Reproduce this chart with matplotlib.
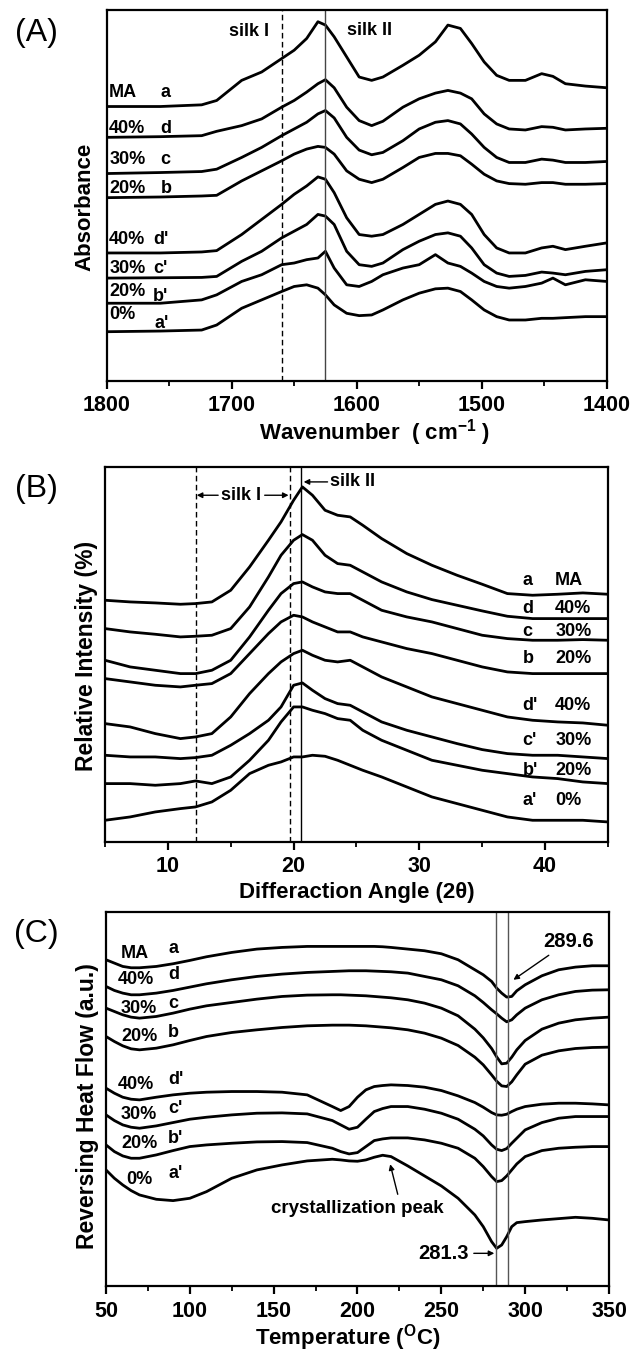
import matplotlib.pyplot as plt
from matplotlib.ticker import MultipleLocator

plt.rcParams['font.family'] = ['Liberation Sans', 'DejaVu Sans']
plt.rcParams['font.weight'] = 'bold'
plt.rcParams['axes.labelweight'] = 'bold'
plt.rcParams['mathtext.fontset'] = 'custom'
plt.rcParams['mathtext.rm'] = 'Liberation Sans:bold'
plt.rcParams['mathtext.bf'] = 'Liberation Sans:bold'

# ---- (A) FTIR ----
ftir_wn = [1800, 1757, 1724, 1712, 1692, 1676, 1660, 1650, 1640, 1631, 1625, 1618, 1608,
           1598, 1588, 1579, 1563, 1550, 1537, 1527, 1517, 1508, 1498, 1488, 1478, 1465,
           1452, 1443, 1433, 1417, 1400]
ftir_a = [81.9, 81.9, 82.4, 83.7, 89.7, 92.2, 96.2, 98.7, 102.2, 107.2, 106.2, 102.7, 96.7,
          90.7, 89.7, 90.7, 94.2, 97.2, 101.2, 106.2, 105.2, 100.7, 95.2, 91.2, 89.7, 89.7,
          91.7, 90.9, 88.7, 88.0, 87.5]
ftir_d = [72.7, 72.9, 73.2, 74.5, 76.2, 78.2, 81.7, 83.7, 86.2, 88.7, 89.9, 87.5, 81.7,
          77.7, 76.2, 77.5, 81.7, 84.2, 85.9, 86.7, 85.9, 84.2, 79.7, 76.7, 75.2, 74.9,
          75.9, 75.7, 74.9, 75.2, 75.4]
ftir_c = [61.9, 62.2, 62.5, 63.2, 66.7, 69.7, 73.2, 75.2, 77.2, 79.7, 80.7, 78.5, 72.7,
          68.9, 67.5, 68.2, 71.7, 75.2, 77.2, 77.7, 76.7, 73.7, 69.7, 66.7, 65.2, 65.2,
          66.2, 65.9, 65.2, 65.2, 65.5]
ftir_b = [54.7, 54.9, 55.2, 55.4, 59.7, 62.7, 65.7, 67.7, 69.2, 70.0, 69.7, 67.7, 62.7,
          60.2, 59.2, 60.2, 63.7, 66.7, 67.9, 67.9, 67.2, 64.7, 61.7, 59.7, 58.9, 58.7,
          59.2, 59.2, 58.7, 58.7, 58.9]
ftir_d2 = [38.2, 38.2, 38.5, 38.9, 43.7, 48.2, 52.7, 55.7, 58.2, 60.9, 60.2, 56.2, 48.7,
           43.7, 43.2, 43.7, 46.7, 49.7, 52.7, 53.7, 52.7, 49.7, 43.7, 39.7, 38.2, 38.2,
           39.7, 40.2, 39.2, 40.2, 41.2]
ftir_c2 = [30.7, 30.8, 30.9, 31.2, 35.7, 38.7, 42.7, 44.7, 46.7, 49.7, 49.2, 46.7, 38.7,
           34.7, 34.2, 35.2, 39.2, 41.7, 43.7, 44.2, 43.2, 39.7, 34.7, 32.2, 31.2, 31.5,
           32.5, 32.2, 31.7, 32.7, 33.2]
ftir_b2 = [23.2, 23.2, 24.2, 25.7, 29.7, 31.7, 34.7, 35.2, 36.2, 36.7, 38.7, 33.7, 28.7,
           28.2, 29.7, 31.7, 33.7, 34.7, 37.7, 35.2, 34.2, 32.2, 29.7, 28.2, 27.7, 28.2,
           29.2, 30.7, 28.7, 30.2, 29.7]
ftir_a2 = [14.7, 14.9, 15.2, 16.7, 21.7, 24.2, 26.7, 28.2, 28.7, 27.7, 25.7, 22.7, 20.2,
           19.5, 19.7, 21.2, 24.2, 26.2, 27.5, 27.7, 26.7, 24.2, 21.2, 19.2, 18.2, 18.2,
           18.7, 18.7, 18.9, 19.2, 19.2]
ftir_pct = ['MA', '40%', '30%', '20%', '40%', '30%', '20%', '0%']
ftir_let = ['a', 'd', 'c', 'b', "d'", "c'", "b'", "a'"]
ftir_pct_y = [86.2, 75.2, 66.2, 57.5, 42.2, 33.7, 26.7, 19.7]
ftir_let_y = [86.2, 75.2, 66.2, 57.5, 42.2, 33.7, 25.2, 17.2]
ftir_let_x = [1757, 1757, 1757, 1757, 1763, 1763, 1763, 1762]

# ---- (B) XRD ----
xrd_x = [5, 7, 9, 11, 12.2, 13.5, 15, 16.5, 18, 19, 20, 20.7, 21.5, 22.5, 23.5, 24.5,
         25.5, 27, 29, 31, 33, 35, 37, 39, 41, 43, 45]
xrd_a = [72.5, 72.0, 71.7, 71.3, 71.5, 72.0, 75.5, 82.5, 90.5, 96.0, 102.5, 106.5, 104.0,
         99.5, 98.0, 97.5, 95.0, 91.0, 86.5, 83.0, 80.0, 77.3, 74.5, 74.0, 74.3, 74.7, 74.3]
xrd_d = [64.0, 63.0, 62.3, 61.5, 61.7, 62.0, 64.0, 70.5, 79.5, 86.0, 90.5, 92.2, 90.5,
         86.0, 83.5, 83.0, 81.0, 78.0, 75.0, 72.7, 71.0, 69.3, 67.7, 67.0, 67.0, 67.0, 67.0]
xrd_c = [54.5, 52.5, 51.5, 50.5, 50.5, 51.5, 54.5, 61.5, 69.5, 74.5, 77.5, 78.0, 76.5,
         75.0, 74.5, 74.5, 72.5, 69.5, 67.5, 66.0, 64.0, 62.0, 61.0, 60.5, 60.5, 60.7, 60.5]
xrd_b = [49.0, 48.0, 47.0, 46.5, 47.0, 47.5, 50.5, 56.5, 62.5, 66.0, 68.0, 67.5, 66.0,
         64.5, 63.0, 63.0, 61.5, 60.0, 58.0, 56.5, 54.5, 52.5, 51.0, 50.5, 50.5, 50.5, 50.5]
xrd_d2 = [35.5, 34.5, 32.5, 31.0, 31.5, 32.5, 37.5, 44.5, 50.5, 54.0, 56.5, 57.5, 56.0,
          54.5, 54.0, 54.5, 52.5, 49.5, 46.5, 43.5, 41.5, 39.5, 37.5, 36.5, 36.0, 35.7, 35.0]
xrd_c2 = [26.0, 25.5, 25.5, 25.0, 25.3, 26.0, 29.0, 32.5, 36.5, 40.5, 47.0, 47.7, 45.5,
          43.0, 41.5, 41.0, 39.0, 36.0, 33.5, 31.5, 29.5, 27.7, 26.5, 26.0, 26.0, 25.5, 25.0]
xrd_b2 = [17.5, 17.5, 17.0, 17.5, 18.3, 17.5, 19.5, 24.5, 30.5, 36.0, 40.5, 40.5, 39.5,
          38.5, 37.0, 36.5, 33.5, 30.5, 27.5, 24.5, 23.0, 21.5, 20.5, 19.5, 19.0, 18.0, 17.5]
xrd_a2 = [6.5, 7.5, 9.0, 10.0, 10.5, 12.0, 15.5, 20.5, 23.0, 24.0, 25.5, 25.5, 26.0,
          25.7, 24.5, 23.0, 21.5, 19.5, 16.5, 13.5, 11.5, 9.5, 7.5, 6.5, 6.5, 6.5, 6.0]
xrd_let = ['a', 'd', 'c', 'b', "d'", "c'", "b'", "a'"]
xrd_pct = ['MA', '40%', '30%', '20%', '40%', '30%', '20%', '0%']
xrd_lab_y = [78.5, 70.0, 63.0, 55.0, 41.0, 30.5, 21.5, 12.5]

# ---- (C) DSC ----
dsc_t = [50, 55, 60, 65, 70, 80, 90, 100, 110, 125, 140, 155, 170, 185, 190, 195, 200,
         205, 210, 215, 220, 230, 240, 250, 260, 270, 275, 280, 283, 286, 289, 292, 295,
         300, 310, 320, 330, 340, 350]
dsc_a = [97.8, 96.8, 95.8, 95.4, 95.4, 95.8, 96.6, 97.6, 98.7, 100.0, 101.0, 101.5, 101.8,
         101.8, 101.8, 101.8, 101.8, 101.8, 101.8, 101.7, 101.5, 101.0, 100.5, 99.6, 97.8,
         94.8, 93.3, 91.3, 89.3, 87.8, 86.6, 86.8, 88.5, 90.3, 93.0, 94.8, 95.6, 96.0, 96.0]
dsc_d = [89.8, 88.6, 87.8, 87.3, 87.3, 87.8, 88.6, 89.6, 90.6, 91.8, 92.8, 93.5, 94.0,
         94.3, 94.4, 94.5, 94.5, 94.5, 94.4, 94.3, 94.2, 93.8, 92.8, 91.8, 90.0, 87.0,
         85.0, 82.8, 81.6, 80.3, 79.2, 79.8, 81.3, 83.3, 85.8, 87.3, 88.3, 88.7, 88.8]
dsc_c = [83.3, 82.3, 81.3, 80.6, 80.3, 80.8, 81.8, 83.0, 84.0, 85.0, 86.0, 86.8, 87.2,
         87.3, 87.3, 87.2, 87.1, 87.0, 86.8, 86.6, 86.4, 85.8, 84.8, 83.3, 81.0, 77.0,
         74.4, 71.2, 68.7, 66.6, 66.8, 68.6, 70.8, 73.6, 77.0, 78.8, 79.8, 80.3, 80.6]
dsc_b = [74.8, 73.3, 72.0, 71.1, 70.8, 71.3, 72.3, 73.6, 74.8, 76.0, 76.8, 77.5, 78.0,
         78.2, 78.2, 78.2, 78.1, 78.0, 77.8, 77.6, 77.4, 76.8, 75.8, 74.3, 72.1, 68.6,
         66.3, 63.3, 61.4, 60.0, 59.8, 61.2, 63.3, 66.5, 69.2, 70.5, 71.2, 71.5, 71.6]
dsc_d2 = [59.3, 57.8, 56.6, 56.0, 55.8, 56.6, 57.3, 57.8, 58.1, 58.3, 58.3, 58.1, 57.3,
          53.8, 52.6, 53.8, 56.6, 58.8, 59.8, 60.1, 60.3, 60.1, 59.6, 58.6, 57.0, 55.0,
          53.6, 52.0, 51.3, 51.2, 51.5, 52.3, 53.0, 53.8, 54.5, 54.8, 54.8, 54.6, 54.3]
dsc_c2 = [51.3, 49.6, 48.3, 47.6, 47.3, 48.0, 49.0, 50.0, 50.6, 51.3, 51.8, 51.9, 51.6,
          49.6, 48.3, 47.0, 47.6, 50.0, 52.3, 53.2, 53.8, 53.8, 53.0, 51.8, 50.0, 47.0,
          45.0, 42.3, 41.0, 40.6, 41.2, 42.8, 44.3, 46.8, 49.0, 50.3, 50.8, 50.8, 50.8]
dsc_b2 = [42.3, 40.3, 39.0, 38.3, 38.3, 39.3, 40.6, 41.8, 42.3, 42.8, 43.2, 43.3, 43.0,
          41.3, 40.3, 39.6, 40.0, 41.8, 43.6, 44.1, 44.4, 44.4, 43.8, 42.8, 41.3, 38.3,
          35.8, 32.8, 31.3, 31.6, 33.0, 34.8, 36.6, 38.8, 40.6, 41.3, 41.6, 41.8, 41.8]
dsc_a2 = [34.8, 32.3, 30.3, 28.6, 27.3, 26.0, 25.6, 26.3, 28.3, 32.3, 34.8, 36.3, 37.5,
          38.0, 37.8, 37.5, 37.4, 37.8, 38.6, 39.2, 38.8, 36.0, 33.0, 30.0, 26.3, 21.3,
          17.8, 13.3, 11.3, 12.3, 14.8, 17.8, 19.0, 19.3, 19.8, 20.2, 20.6, 20.3, 19.8]
dsc_pct = ['MA', '40%', '30%', '20%', '40%', '30%', '20%', '0%']
dsc_let = ['a', 'd', 'c', 'b', "d'", "c'", "b'", "a'"]
dsc_pct_x = [59, 57, 59, 59, 57, 59, 59, 62]
dsc_pct_y = [99.8, 91.8, 83.3, 74.8, 60.3, 51.3, 42.8, 31.8]
dsc_let_y = [101.3, 93.3, 84.8, 76.0, 61.8, 53.3, 44.3, 33.8]

fig = plt.figure(figsize=(6.32, 13.51), dpi=100)
axA = fig.add_axes([0.1688, 0.718, 0.7911, 0.2746])
axB = fig.add_axes([0.1661, 0.3768, 0.7959, 0.2776])
axC = fig.add_axes([0.1677, 0.0481, 0.7959, 0.2768])


def style(ax, major, minor, pad):
    ax.set_yticks([])
    ax.xaxis.set_major_locator(MultipleLocator(major))
    ax.xaxis.set_minor_locator(MultipleLocator(minor))
    ax.tick_params(axis='x', which='major', direction='out', length=6, width=1.6,
                   labelsize=15.5, pad=pad)
    ax.tick_params(axis='x', which='minor', direction='out', length=3.5, width=1.3)
    for lab in ax.get_xticklabels():
        lab.set_fontweight('bold')
    for s in ax.spines.values():
        s.set_linewidth(1.6)


lab_fs = 13

# panel A
for ys in [ftir_a, ftir_d, ftir_c, ftir_b, ftir_d2, ftir_c2, ftir_b2, ftir_a2]:
    axA.plot(ftir_wn, ys, color='black', lw=2)
axA.axvline(1660, color='black', lw=1, ls=(0, (4, 2.5)))
axA.axvline(1625, color='#444444', lw=1)
axA.set_xlim(1800, 1400)
axA.set_ylim(0, 110.7)
style(axA, 100, 50, 4)
for p, l, yp, yl, xl in zip(ftir_pct, ftir_let, ftir_pct_y, ftir_let_y, ftir_let_x):
    axA.text(1798, yp, p, ha='left', va='center', fontsize=lab_fs)
    axA.text(xl, yl, l, ha='left', va='center', fontsize=lab_fs)
axA.text(1686, 104.2, 'silk I', ha='center', va='center', fontsize=lab_fs)
axA.text(1590, 104.7, 'silk II', ha='center', va='center', fontsize=lab_fs)
axA.set_xlabel('Wavenumber  ( cm$^{-1}$ )', fontsize=16)
axA.xaxis.set_label_coords(0.535, -0.139)
axA.xaxis.label.set_va('center')
axA.set_ylabel('Absorbance', fontsize=16)
axA.yaxis.set_label_coords(-0.043, 0.47)
axA.yaxis.label.set_va('center')
fig.text(0.057, 1 - 33 / 1351, '(A)', fontsize=23, fontweight='normal',
         ha='center', va='center')

# panel B
for ys in [xrd_a, xrd_d, xrd_c, xrd_b, xrd_d2, xrd_c2, xrd_b2, xrd_a2]:
    axB.plot(xrd_x, ys, color='black', lw=2)
axB.axvline(12.2, color='black', lw=1, ls=(0, (4, 2.5)))
axB.axvline(19.7, color='black', lw=1, ls=(0, (4, 2.5)))
axB.axvline(20.6, color='black', lw=1)
axB.set_xlim(5, 45)
axB.set_ylim(0, 112.5)
style(axB, 10, 5, 4)
arrow = dict(arrowstyle='-|>', color='black', lw=1, mutation_scale=8,
             shrinkA=0, shrinkB=0)
axB.annotate('', xy=(12.3, 104), xytext=(14.0, 104), arrowprops=arrow)
axB.text(15.8, 104, 'silk I', ha='center', va='center', fontsize=lab_fs)
axB.annotate('', xy=(19.6, 104), xytext=(17.7, 104), arrowprops=arrow)
axB.annotate('', xy=(20.8, 108), xytext=(22.7, 108), arrowprops=arrow)
axB.text(22.9, 108, 'silk II', ha='left', va='center', fontsize=lab_fs)
for l, p, y in zip(xrd_let, xrd_pct, xrd_lab_y):
    axB.text(38.2, y, l, ha='left', va='center', fontsize=lab_fs)
    axB.text(40.8, y, p, ha='left', va='center', fontsize=lab_fs)
axB.set_xlabel('Differaction Angle (2\u03b8)', fontsize=16)
axB.xaxis.set_label_coords(0.5, -0.136)
axB.xaxis.label.set_va('center')
axB.set_ylabel('Relative Intensity (%)', fontsize=16.5)
axB.yaxis.set_label_coords(-0.036, 0.495)
axB.yaxis.label.set_va('center')
fig.text(0.057, 1 - 489 / 1351, '(B)', fontsize=23, fontweight='normal',
         ha='center', va='center')

# panel C
for ys in [dsc_a, dsc_d, dsc_c, dsc_b, dsc_d2, dsc_c2, dsc_b2, dsc_a2]:
    axC.plot(dsc_t, ys, color='black', lw=2)
axC.axvline(282.8, color='#555555', lw=1)
axC.axvline(290.0, color='#555555', lw=1)
axC.set_xlim(50, 350)
axC.set_ylim(0, 112.1)
style(axC, 50, 25, 5)
for p, l, px, yp, yl in zip(dsc_pct, dsc_let, dsc_pct_x, dsc_pct_y, dsc_let_y):
    axC.text(px, yp, p, ha='left', va='center', fontsize=lab_fs)
    axC.text(87, yl, l, ha='left', va='center', fontsize=lab_fs)
axC.annotate('289.6', xy=(293, 91.8), xytext=(326, 103.3), ha='center', va='center',
             fontsize=14.5, arrowprops=dict(arrowstyle='-|>', color='black', lw=1,
                                            mutation_scale=8, shrinkB=0))
axC.annotate('281.3', xy=(281.6, 9.8), xytext=(251, 9.8), ha='center', va='center',
             fontsize=14.5, arrowprops=dict(arrowstyle='-|>', color='black', lw=1,
                                            mutation_scale=8, shrinkB=0))
axC.annotate('', xy=(219.5, 36.5), xytext=(224, 27.5),
             arrowprops=dict(arrowstyle='-|>', color='black', lw=1, mutation_scale=8,
                             shrinkA=0, shrinkB=0))
axC.text(200, 23.3, 'crystallization peak', ha='center', va='center', fontsize=13.5)
axC.set_xlabel('Temperature ($^{\\mathrm{O}}$C)', fontsize=16)
axC.xaxis.set_label_coords(0.48, -0.139)
axC.xaxis.label.set_va('center')
axC.set_ylabel('Reversing Heat Flow (a.u.)', fontsize=16.5)
axC.yaxis.set_label_coords(-0.036, 0.48)
axC.yaxis.label.set_va('center')
fig.text(0.057, 1 - 934 / 1351, '(C)', fontsize=23, fontweight='normal',
         ha='center', va='center')

fig.savefig('out.png', dpi=100)
